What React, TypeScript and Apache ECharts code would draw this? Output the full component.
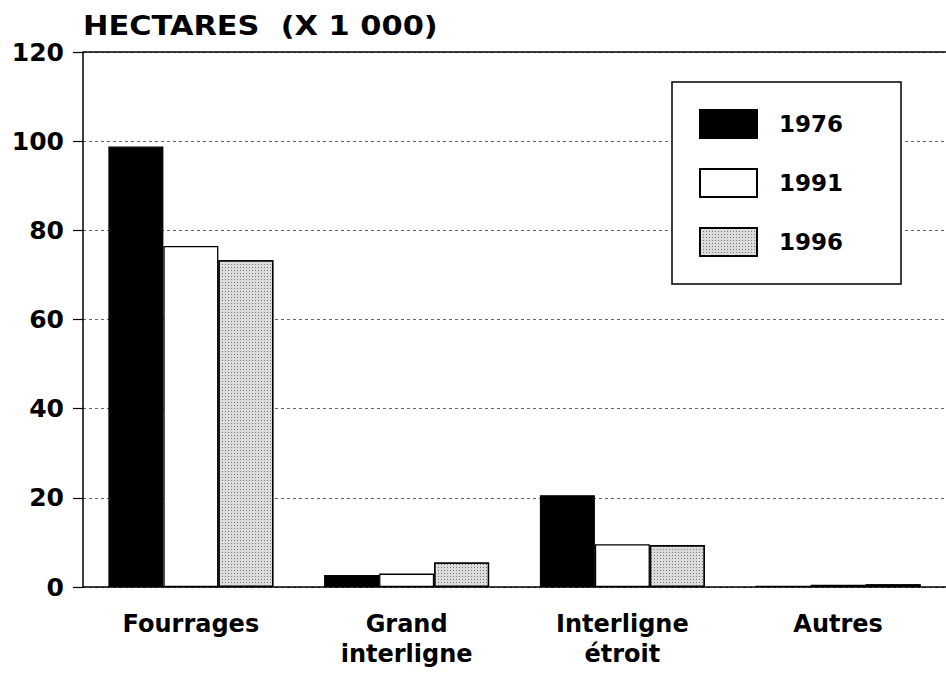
import React, { useEffect, useRef } from "react";
import * as echarts from "echarts";

const categories = ["Fourrages", "Grand\ninterligne", "Interligne\nétroit", "Autres"];
const years = ["1976", "1991", "1996"];
const values1976 = [98.8, 2.7, 20.6, 0.3];
const values1991 = [76.5, 3.0, 9.6, 0.5];
const values1996 = [73.3, 5.5, 9.4, 0.6];
const yTicks = { min: 0, max: 120, interval: 20 };
const titleText = "HECTARES  (X 1 000)";

const FONT = "DejaVu Sans";

export default function App() {
  const ref = useRef<HTMLDivElement>(null);
  useEffect(() => {
    if (!ref.current) return;
    const chart = echarts.init(ref.current, undefined, { renderer: "svg" });
    const border = { borderColor: "#000", borderWidth: 1.3 };
    chart.setOption({
      animation: false,
      backgroundColor: "#fff",
      graphic: [
        {
          type: "text",
          x: 83,
          y: 13,
          scaleX: 1.17,
          originX: 0,
          originY: 0,
          style: {
            text: titleText,
            fontFamily: FONT,
            fontSize: 26,
            fontWeight: "bold",
            fill: "#000",
            textVerticalAlign: "top",
            textAlign: "left",
          },
        },
      ],
      legend: {
        orient: "vertical",
        left: 672,
        top: 82,
        padding: [27, 58, 27, 27],
        itemGap: 29,
        itemWidth: 57,
        itemHeight: 28,
        icon: "rect",
        borderColor: "#000",
        borderWidth: 1.5,
        backgroundColor: "#fff",
        data: years,
        textStyle: {
          fontFamily: FONT,
          fontSize: 23,
          fontWeight: "bold",
          color: "#000",
          padding: [0, 0, 0, 17],
        },
      },
      grid: { left: 83, top: 52, width: 872, height: 535, containLabel: false },
      xAxis: {
        type: "category",
        data: categories,
        boundaryGap: true,
        axisLine: { lineStyle: { color: "#000", width: 1.5 } },
        axisTick: { alignWithLabel: true, length: 10, lineStyle: { color: "#000", width: 1.5 } },
        axisLabel: {
          fontFamily: FONT,
          fontSize: 24,
          fontWeight: "bold",
          color: "#000",
          lineHeight: 30,
          margin: 22,
        },
      },
      yAxis: {
        type: "value",
        min: yTicks.min,
        max: yTicks.max,
        interval: yTicks.interval,
        axisLine: { show: true, lineStyle: { color: "#000", width: 1.5 } },
        axisTick: { show: true, length: 10, lineStyle: { color: "#000", width: 1.2 } },
        axisLabel: {
          fontFamily: FONT,
          fontSize: 25,
          fontWeight: "bold",
          color: "#000",
          margin: 19,
        },
        splitLine: { show: true, lineStyle: { color: "#666", width: 1, type: [3, 3] } },
      },
      series: [
        {
          name: years[0],
          type: "bar",
          data: values1976,
          barWidth: 55,
          barGap: "0%",
          itemStyle: { color: "#000", ...border },
          markLine: {
            silent: true,
            symbol: ["none", "none"],
            label: { show: false },
            lineStyle: { color: "#000", type: "solid", width: 1.5 },
            data: [{ yAxis: 120 }],
          },
        },
        {
          name: years[1],
          type: "bar",
          data: values1991,
          barWidth: 55,
          barGap: "0%",
          itemStyle: { color: "#fff", ...border },
        },
        {
          name: years[2],
          type: "bar",
          data: values1996,
          barWidth: 55,
          barGap: "0%",
          itemStyle: {
            color: "#dcdcdc",
            ...border,
            decal: {
              symbol: "rect",
              symbolSize: 1,
              color: "rgba(50,50,50,0.6)",
              dashArrayX: [1, 2],
              dashArrayY: [1, 2],
              rotation: 0,
            },
          },
        },
      ],
    });
    return () => chart.dispose();
  }, []);
  return (
    <div
      ref={ref}
      style={{ position: "fixed", left: 0, top: 0, width: 946, height: 673, background: "#fff" }}
    />
  );
}
